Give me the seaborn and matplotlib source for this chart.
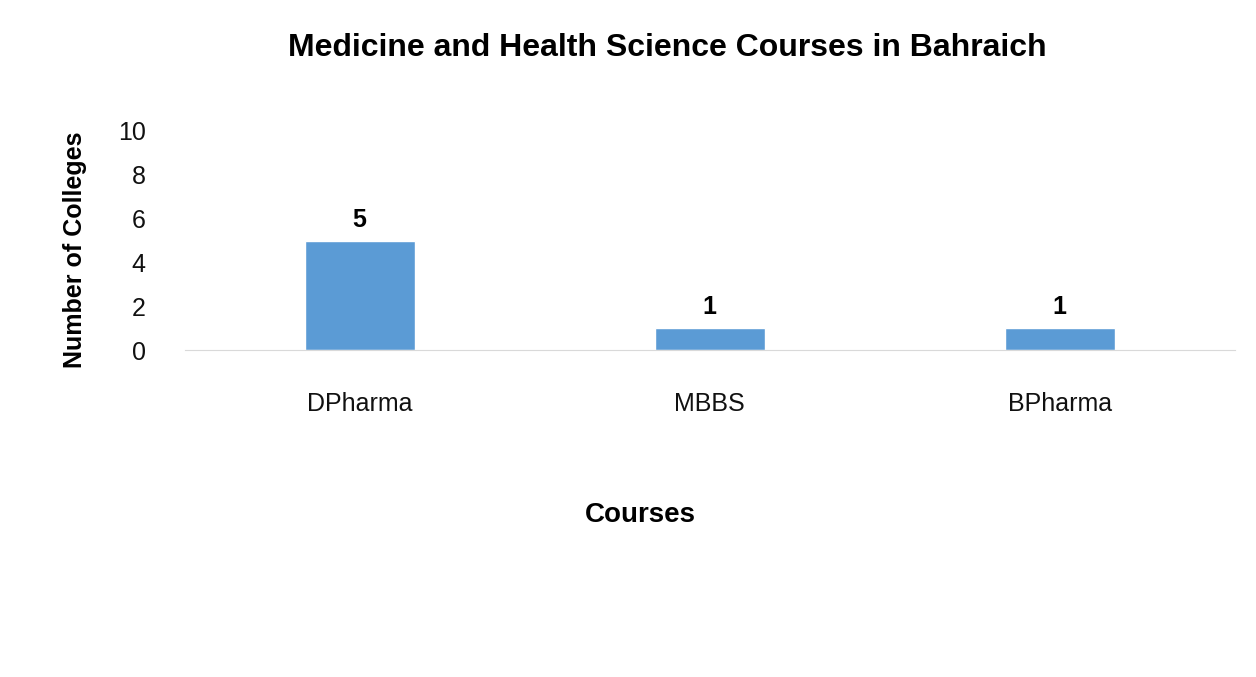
import matplotlib
matplotlib.use("Agg")
import matplotlib.pyplot as plt
import seaborn as sns
import pandas as pd

courses = ["DPharma", "MBBS", "BPharma"]
colleges = [5, 1, 1]
yticks = [0, 2, 4, 6, 8, 10]

sns.set_style("white")
plt.rcParams['font.family'] = ['Liberation Sans', 'DejaVu Sans']

df = pd.DataFrame({"Courses": courses, "Colleges": colleges})
fig = plt.figure(figsize=(12.56, 6.77), dpi=100)
ax = fig.add_axes([0.147, 0.483, 0.836, 0.3235])
sns.barplot(data=df, x="Courses", y="Colleges", color="#5B9BD5", saturation=1, width=0.314, ax=ax)
ax.set_ylim(0, 10)
ax.set_xlim(-0.5, 2.5)
ax.set_yticks(yticks)
ax.tick_params(axis='both', length=0, labelsize=18, colors="#111111")
ax.tick_params(axis='x', pad=30)
ax.tick_params(axis='y', pad=28)
for s in ["top", "right", "left"]:
    ax.spines[s].set_visible(False)
ax.spines["bottom"].set_color("#d9d9d9")
for i, v in enumerate(colleges):
    ax.text(i, v + 0.4, str(v), ha="center", va="bottom", fontsize=18, fontweight="bold", color="black")
ax.set_xlabel("")
ax.set_ylabel("")
fig.text(75 / 1256, 1 - 250 / 677, "Number of Colleges", rotation=90, ha="center", va="center",
         fontsize=18, fontweight="bold", color="black")
fig.text(640 / 1256, 1 - 515 / 677, "Courses", ha="center", va="center",
         fontsize=20, fontweight="bold", color="black")
fig.text(667 / 1256, 1 - 48 / 677, "Medicine and Health Science Courses in Bahraich", ha="center", va="center",
         fontsize=23, fontweight="bold", color="black")
fig.savefig("out.png", dpi=100)
